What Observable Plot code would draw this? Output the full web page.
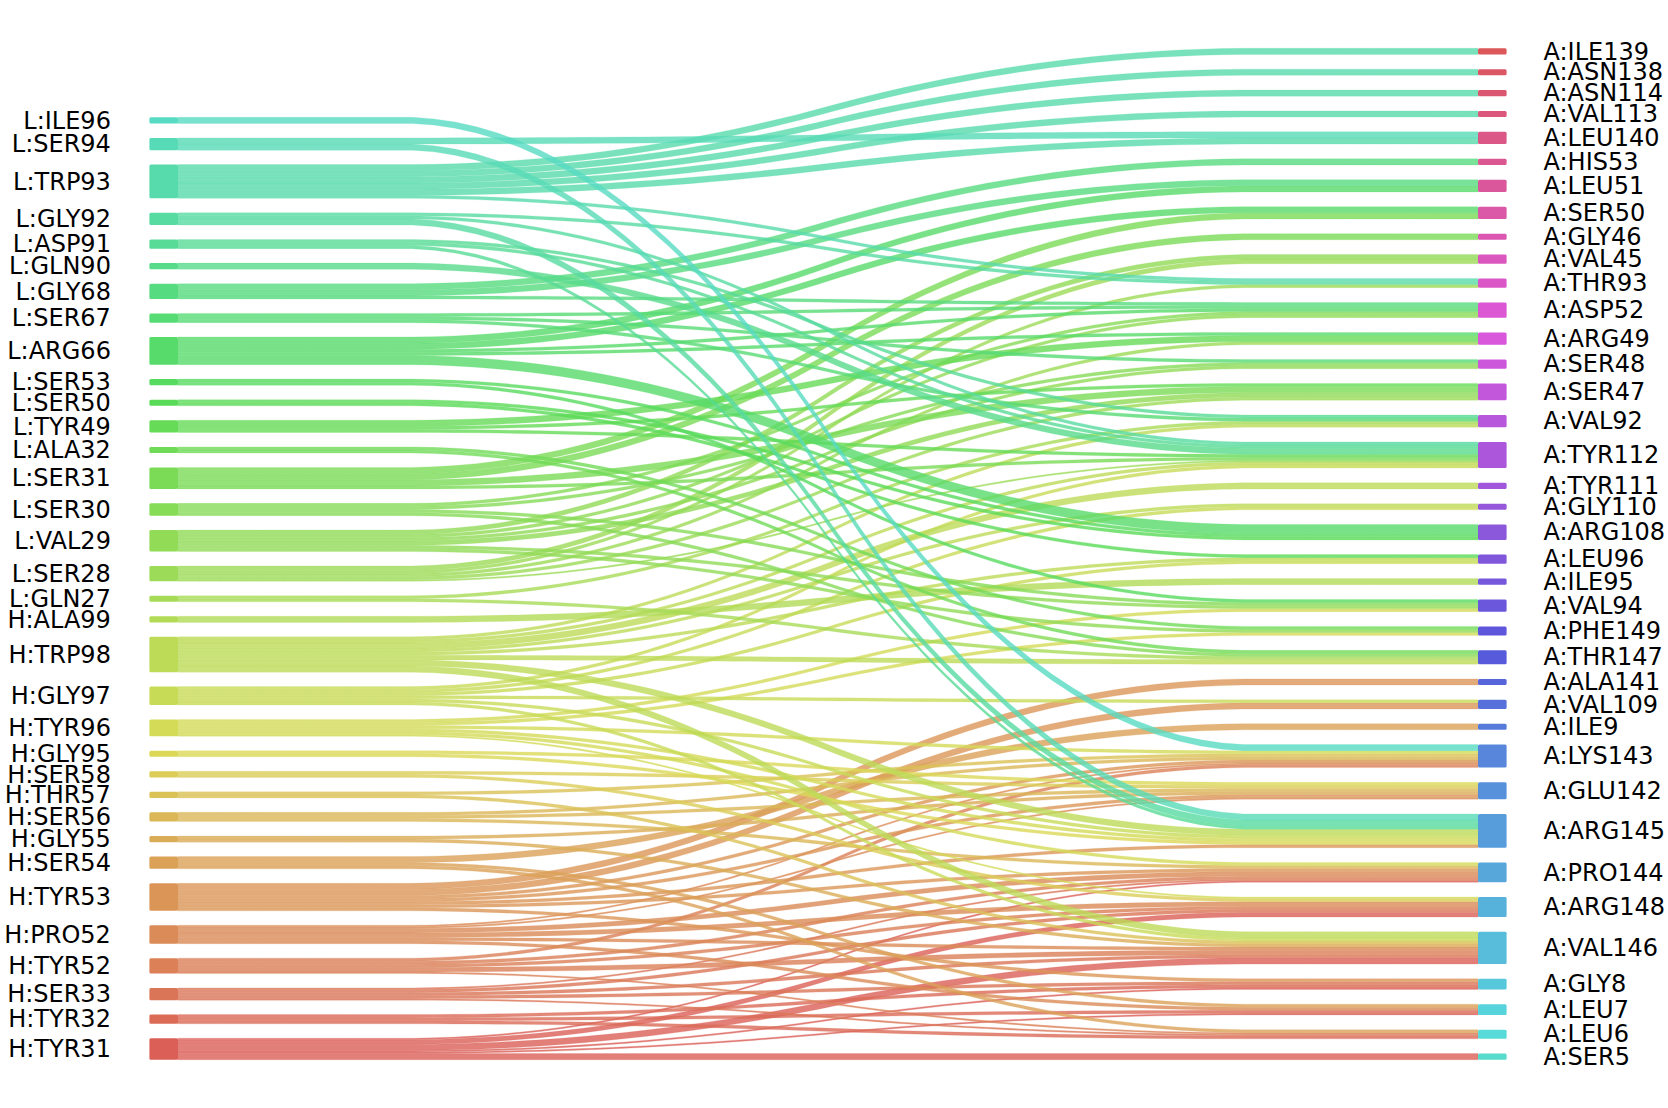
<!DOCTYPE html>
<html><head><meta charset="utf-8">
<script src="https://cdn.jsdelivr.net/npm/d3@7"></script>
<script src="https://cdn.jsdelivr.net/npm/@observablehq/plot@0.6"></script>
<style>body{margin:0;background:#fff;}</style>
</head><body><div id="chart"></div>
<script>
// Node labels, top to bottom as displayed
const leftLabels = ["L:ILE96","L:SER94","L:TRP93","L:GLY92","L:ASP91","L:GLN90","L:GLY68","L:SER67","L:ARG66","L:SER53","L:SER50","L:TYR49","L:ALA32","L:SER31","L:SER30","L:VAL29","L:SER28","L:GLN27","H:ALA99","H:TRP98","H:GLY97","H:TYR96","H:GLY95","H:SER58","H:THR57","H:SER56","H:GLY55","H:SER54","H:TYR53","H:PRO52","H:TYR52","H:SER33","H:TYR32","H:TYR31"];
const rightLabels = ["A:ILE139","A:ASN138","A:ASN114","A:VAL113","A:LEU140","A:HIS53","A:LEU51","A:SER50","A:GLY46","A:VAL45","A:THR93","A:ASP52","A:ARG49","A:SER48","A:SER47","A:VAL92","A:TYR112","A:TYR111","A:GLY110","A:ARG108","A:LEU96","A:ILE95","A:VAL94","A:PHE149","A:THR147","A:ALA141","A:VAL109","A:ILE9","A:LYS143","A:GLU142","A:ARG145","A:PRO144","A:ARG148","A:VAL146","A:GLY8","A:LEU7","A:LEU6","A:SER5"];

// Links (source, target, weight)
const linkSource = [
 "L:ILE96",
 "L:SER94","L:SER94",
 "L:TRP93","L:TRP93","L:TRP93","L:TRP93","L:TRP93","L:TRP93",
 "L:GLY92","L:GLY92","L:GLY92",
 "L:ASP91","L:ASP91","L:ASP91",
 "L:GLN90",
 "L:GLY68","L:GLY68","L:GLY68",
 "L:SER67","L:SER67","L:SER67",
 "L:ARG66","L:ARG66","L:ARG66","L:ARG66","L:ARG66",
 "L:SER53","L:SER53",
 "L:SER50","L:SER50",
 "L:TYR49","L:TYR49","L:TYR49",
 "L:ALA32","L:ALA32",
 "L:SER31","L:SER31","L:SER31","L:SER31",
 "L:SER30","L:SER30","L:SER30","L:SER30",
 "L:VAL29","L:VAL29","L:VAL29","L:VAL29","L:VAL29","L:VAL29",
 "L:SER28","L:SER28","L:SER28","L:SER28","L:SER28",
 "L:GLN27","L:GLN27",
 "H:ALA99",
 "H:TRP98","H:TRP98","H:TRP98","H:TRP98","H:TRP98","H:TRP98","H:TRP98","H:TRP98",
 "H:GLY97","H:GLY97","H:GLY97","H:GLY97","H:GLY97","H:GLY97",
 "H:TYR96","H:TYR96","H:TYR96","H:TYR96","H:TYR96","H:TYR96",
 "H:GLY95","H:GLY95",
 "H:SER58","H:SER58",
 "H:THR57","H:THR57",
 "H:SER56","H:SER56","H:SER56",
 "H:GLY55","H:GLY55",
 "H:SER54","H:SER54","H:SER54",
 "H:TYR53","H:TYR53","H:TYR53","H:TYR53","H:TYR53","H:TYR53","H:TYR53",
 "H:PRO52","H:PRO52","H:PRO52","H:PRO52","H:PRO52","H:PRO52",
 "H:TYR52","H:TYR52","H:TYR52","H:TYR52","H:TYR52",
 "H:SER33","H:SER33","H:SER33","H:SER33","H:SER33",
 "H:TYR32","H:TYR32","H:TYR32",
 "H:TYR31","H:TYR31","H:TYR31","H:TYR31","H:TYR31","H:TYR31"
];
const linkTarget = [
 "A:LYS143",
 "A:LEU140","A:ARG145",
 "A:ILE139","A:ASN138","A:ASN114","A:VAL113","A:LEU140","A:THR93",
 "A:THR93","A:TYR112","A:ARG145",
 "A:VAL92","A:TYR112","A:ARG145",
 "A:TYR112",
 "A:HIS53","A:LEU51","A:ASP52",
 "A:ASP52","A:SER48","A:VAL92",
 "A:LEU51","A:SER50","A:ASP52","A:ARG49","A:ARG108",
 "A:ARG108","A:VAL94",
 "A:ARG108","A:LEU96",
 "A:ARG49","A:SER47","A:TYR112",
 "A:PHE149","A:THR147",
 "A:SER50","A:GLY46","A:SER47","A:TYR112",
 "A:ASP52","A:SER48","A:VAL94","A:THR147",
 "A:VAL45","A:ASP52","A:SER48","A:SER47","A:VAL94","A:PHE149",
 "A:VAL45","A:THR93","A:ARG49","A:SER47","A:TYR112",
 "A:VAL92","A:THR147",
 "A:ILE95",
 "A:TYR111","A:GLY110","A:VAL92","A:TYR112","A:LEU96","A:THR147","A:ARG145","A:VAL146",
 "A:GLY110","A:TYR112","A:LEU96","A:VAL109","A:ARG145","A:VAL146",
 "A:VAL94","A:PHE149","A:LYS143","A:ARG145","A:PRO144","A:ARG148",
 "A:GLU142","A:ARG145",
 "A:GLU142","A:ARG148",
 "A:LYS143","A:VAL146",
 "A:LYS143","A:GLU142","A:PRO144",
 "A:GLU142","A:VAL146",
 "A:ILE9","A:LEU7","A:LEU6",
 "A:ALA141","A:VAL109","A:LYS143","A:GLU142","A:ARG145","A:PRO144","A:GLY8",
 "A:LYS143","A:GLU142","A:PRO144","A:ARG148","A:VAL146","A:LEU7",
 "A:LYS143","A:PRO144","A:ARG148","A:VAL146","A:LEU6",
 "A:PRO144","A:ARG148","A:VAL146","A:GLY8","A:LEU6",
 "A:GLY8","A:LEU7","A:LEU6",
 "A:PRO144","A:ARG148","A:VAL146","A:GLY8","A:LEU7","A:SER5"
];
const linkWeight = [
 2,
 2,2,
 2,2,2,2,2,1,
 1,1,2,
 1,1,1,
 2,
 2,2,1,
 1,1,1,
 2,2,1,1,3,
 1,1,
 1,1,
 2,1,1,
 1,1,
 2,2,2,1,
 1,1,1,1,
 1.5,1,1,1.5,1,1,
 1.5,1,1,1,0.5,
 1,1,
 2,
 2,1,1,1,1,1.5,2,2,
 1,1,1,1,1,1,
 1,1,1,1,1,0.5,
 1,1,
 1,1,
 1,1,
 1,1,1,
 1,1,
 2,1,1,
 2,2,1,1,1,1,1,
 0.5,0.5,1.5,1.5,1,1,
 1,1,1,1.5,0.5,
 0.5,1,1,1,0.5,
 1,1,1,
 0.5,1.5,2,0.5,0.5,2
];

// ---- layout (stacked from the bottom) ----
const gapLeft = 4.7, gapRight = 4.8, barW = 0.022;
const leftOrder = leftLabels.slice().reverse();
const rightOrder = rightLabels.slice().reverse();
const allLabels = leftOrder.concat(rightOrder);
const nC = allLabels.length;
const colorOf = new Map(allLabels.map((l, i) => [l, d3.hsl((((i / nC) + 0.01) % 1) * 360, 0.65, 0.6).formatHex()]));

const links = linkSource.map((s, i) => ({source: s, target: linkTarget[i], w: linkWeight[i]}));
const wMap = new Map(links.map(l => [l.source + "|" + l.target, l.w]));
const lw = d3.rollup(links, v => d3.sum(v, d => d.w), d => d.source);
const rw = d3.rollup(links, v => d3.sum(v, d => d.w), d => d.target);

function stack(order, wts, gap, side) {
  let y = 0; const out = [];
  for (const lab of order) {
    const w = wts.get(lab) || 0;
    out.push({label: lab, side, bottom: y, top: y + w, cur: y, color: colorOf.get(lab)});
    y += w + gap;
  }
  return out;
}
const leftNodes = stack(leftOrder, lw, gapLeft, "L");
const rightNodes = stack(rightOrder, rw, gapRight, "R");
const yMax = d3.max(rightNodes, d => d.top);
const Lm = new Map(leftNodes.map(d => [d.label, d]));
const Rm = new Map(rightNodes.map(d => [d.label, d]));

// sigmoid shape from a doubly smoothed step
const step = d3.range(100).map(i => i < 50 ? 0 : 1);
const conv = a => d3.range(a.length - 19).map(i => d3.sum(a.slice(i, i + 20)) * 0.05);
const shape = conv(conv(step));
const nS = shape.length;

const strips = [];
let id = 0;
for (const ll of leftOrder) {
  for (const rl of rightOrder) {
    const w = wMap.get(ll + "|" + rl);
    if (!w) continue;
    const L = Lm.get(ll), R = Rm.get(rl);
    const lb = L.cur, lt = lb + w; L.cur = lt;
    const rb = R.cur, rt = rb + w; R.cur = rt;
    for (let j = 0; j < nS; j++) {
      const s = shape[j];
      strips.push({id, x: j / (nS - 1), y1: lb + (rb - lb) * s, y2: lt + (rt - lt) * s, fill: colorOf.get(ll)});
    }
    id++;
  }
}

const chart = Plot.plot({
  width: 1668, height: 1108,
  marginTop: 48.3, marginBottom: 48.3, marginLeft: 178, marginRight: 190,
  style: {fontFamily: "'DejaVu Sans', sans-serif", background: "#fff"},
  x: {domain: [0, 1], axis: null},
  y: {domain: [0, yMax], axis: null},
  color: {type: "identity"},
  marks: [
    Plot.areaY(strips, {x: "x", y1: "y1", y2: "y2", z: "id", fill: "fill", fillOpacity: 0.8, stroke: "fill", strokeOpacity: 0.25, strokeWidth: 0.8}),
    Plot.rect(leftNodes, {x1: () => -barW, x2: () => 0, y1: "bottom", y2: "top", fill: "color", rx: 1.5}),
    Plot.rect(rightNodes, {x1: () => 1, x2: () => 1 + barW, y1: "bottom", y2: "top", fill: "color", rx: 1.5}),
    Plot.text(leftNodes, {x: () => -0.052, y: d => (d.bottom + d.top) / 2, text: "label", textAnchor: "end", fontSize: 24, fill: "#000"}),
    Plot.text(rightNodes, {x: () => 1.05, y: d => (d.bottom + d.top) / 2, text: "label", textAnchor: "start", fontSize: 24, fill: "#000"})
  ]
});
document.getElementById("chart").appendChild(chart);
</script>
</body></html>
